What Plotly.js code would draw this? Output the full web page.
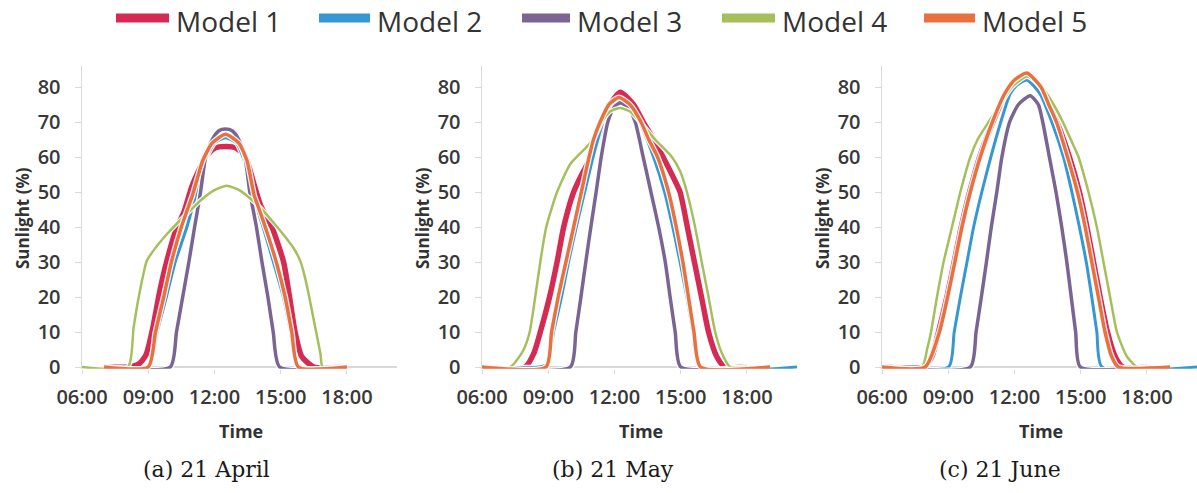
<!DOCTYPE html>
<html>
<head>
<meta charset="utf-8">
<script src="https://cdn.plot.ly/plotly-3.0.1.min.js"></script>
<style>
  html, body { margin: 0; padding: 0; background: #ffffff; }
  #chart { width: 1197px; height: 493px; }
</style>
</head>
<body>
<div id="chart"></div>
<script>
// Sunlight (%) through the day for five models, on three dates.
// Times are decimal hours; each series keeps its own sample times.

const modelNames = ['Model 1', 'Model 2', 'Model 3', 'Model 4', 'Model 5'];
const panelCaptions = ['(a) 21 April', '(b) 21 May', '(c) 21 June'];
const tickHours = [6, 9, 12, 15, 18];
const tickLabels = ['06:00', '09:00', '12:00', '15:00', '18:00'];

// ---- 21 April ----
const aprM1Time = [7.0, 8.1, 8.6, 8.9, 9.2, 9.5, 9.83, 10.3, 10.6, 11.0, 11.6, 12.0, 12.5, 13.0, 13.4, 13.8, 14.1, 14.6, 15.13, 15.4, 15.65, 15.95, 16.5, 18.0];
const aprM1Val  = [0, 0, 1, 3.5, 11, 21, 30, 40, 44, 52, 60, 62.5, 63, 62.5, 60, 52, 46, 40, 30, 20, 10, 3, 0, 0];
const aprM2Time = [7.0, 9.02, 9.4, 9.82, 10.22, 10.75, 11.1, 11.5, 12.0, 12.5, 13.0, 13.4, 13.9, 14.2, 14.67, 15.12, 15.45, 15.77, 18.0];
const aprM2Val  = [0, 0, 10, 20, 30, 40, 48, 58, 64, 65.5, 64, 58, 46, 40, 30, 20, 10, 0, 0];
const aprM3Time = [7.0, 10.0, 10.28, 10.56, 10.84, 11.1, 11.37, 11.6, 11.9, 12.2, 12.5, 12.8, 13.1, 13.38, 13.6, 13.9, 14.15, 14.42, 14.66, 14.95, 18.0];
const aprM3Val  = [0, 0, 10, 20, 30, 40, 50, 60, 65, 67.5, 68, 67.5, 65, 60, 50, 40, 30, 20, 10, 0, 0];
const aprM4Time = [6.0, 8.08, 8.34, 8.6, 8.94, 9.32, 9.85, 10.3, 10.9, 11.35, 11.96, 12.56, 13.16, 13.55, 14.07, 14.6, 15.1, 15.58, 15.88, 16.06, 16.26, 16.56, 16.8, 16.9, 18.0];
const aprM4Val  = [0, 0, 11.4, 21, 30.4, 34, 38, 41, 44.7, 47.5, 50.4, 51.8, 50.4, 48.5, 45.6, 41.8, 38, 34, 30.4, 26.6, 21, 11.4, 3.8, 0, 0];
const aprM5Time = [7.0, 9.0, 9.33, 9.7, 10.05, 10.5, 10.72, 11.0, 11.23, 11.47, 11.9, 12.5, 13.1, 13.47, 13.8, 14.0, 14.3, 14.8, 15.2, 15.5, 15.8, 18.0];
const aprM5Val  = [0, 0, 10, 20, 30, 40, 44, 49, 54, 59, 64, 66.5, 64, 59, 49, 45.5, 40, 30, 20, 10, 0, 0];

// ---- 21 May ----
const mayM1Time = [6.0, 7.96, 8.34, 8.64, 9.06, 9.4, 9.7, 10.15, 10.52, 10.93, 11.5, 11.8, 12.26, 12.86, 13.3, 13.77, 14.2, 14.6, 14.97, 15.3, 15.62, 15.94, 16.26, 16.63, 17.0, 18.0];
const mayM1Val  = [0, 0, 3.8, 10, 20, 30, 40, 50, 55, 60, 70, 75, 78.5, 75, 70, 65, 60, 55, 50, 40, 30, 20, 10, 3, 0, 0];
const mayM2Time = [6.0, 8.6, 8.94, 9.24, 9.6, 9.92, 10.27, 10.65, 11.03, 11.48, 11.8, 12.2, 12.7, 13.13, 13.77, 14.27, 14.64, 14.97, 15.28, 15.55, 15.85, 20.3];
const mayM2Val  = [0, 0, 0.8, 10, 20, 30, 40, 50, 60, 70, 74, 76, 74, 70, 60, 50, 40, 30, 20, 10, 0, 0];
const mayM3Time = [6.0, 10.0, 10.25, 10.48, 10.7, 10.93, 11.17, 11.4, 11.7, 11.96, 12.26, 12.64, 12.94, 13.3, 13.65, 14.0, 14.3, 14.52, 14.75, 15.0, 18.0];
const mayM3Val  = [0, 0, 10, 20, 30, 40, 50, 60, 70, 74, 75.5, 74, 70, 60, 50, 40, 30, 20, 10, 0, 0];
const mayM4Time = [6.0, 7.28, 7.58, 7.89, 8.16, 8.41, 8.64, 8.91, 9.4, 10.0, 10.6, 11.05, 11.43, 11.8, 12.26, 12.7, 13.16, 13.84, 14.6, 14.97, 15.28, 15.65, 15.95, 16.26, 16.56, 16.86, 17.24, 18.0];
const mayM4Val  = [0, 0, 2, 5, 10, 20, 30, 40, 50, 58, 62, 65, 70, 73, 74, 73, 70, 65, 60, 56, 50, 40, 30, 20, 10, 4, 0, 0];
const mayM5Time = [6.0, 8.9, 9.15, 9.45, 9.8, 10.15, 10.5, 10.85, 11.05, 11.35, 11.75, 12.2, 12.7, 13.2, 13.55, 13.95, 14.45, 14.8, 15.1, 15.35, 15.6, 15.9, 19.05];
const mayM5Val  = [0, 0, 10, 20, 30, 40, 50, 60, 65, 70, 75, 77, 75, 70, 65, 60, 50, 40, 30, 20, 10, 0, 0];

// ---- 21 June ----
const junM1Time = [6.0, 7.88, 8.26, 8.56, 8.94, 9.27, 9.59, 9.97, 10.42, 11.02, 11.58, 12.0, 12.56, 13.16, 13.54, 13.92, 14.49, 14.94, 15.28, 15.58, 15.88, 16.21, 16.56, 16.9, 18.0];
const junM1Val  = [0, 0, 3, 10, 20, 30, 40, 50, 60, 70, 78, 81.5, 83, 80, 75, 70, 60, 50, 40, 30, 20, 10, 3, 0, 0];
const junM2Time = [6.0, 9.02, 9.27, 9.55, 9.85, 10.15, 10.52, 10.93, 11.38, 11.8, 12.1, 12.56, 13.16, 13.69, 14.22, 14.6, 14.94, 15.25, 15.5, 15.73, 15.96, 20.3];
const junM2Val  = [0, 0, 10, 20, 30, 40, 50, 60, 70, 78, 80.5, 82, 78, 70, 60, 50, 40, 30, 20, 10, 0, 0];
const junM3Time = [6.0, 10.0, 10.26, 10.5, 10.73, 10.95, 11.2, 11.43, 11.78, 12.18, 12.71, 13.08, 13.28, 13.58, 13.88, 14.14, 14.37, 14.57, 14.77, 14.98, 18.0];
const junM3Val  = [0, 0, 10, 20, 30, 40, 50, 60, 70, 75, 77.5, 75, 70, 60, 50, 40, 30, 20, 10, 0, 0];
const junM4Time = [6.0, 7.81, 8.04, 8.22, 8.49, 8.79, 9.17, 9.55, 10.0, 10.33, 10.83, 11.36, 11.89, 12.56, 13.24, 13.77, 14.19, 14.55, 14.9, 15.35, 15.73, 16.03, 16.33, 16.64, 17.09, 17.55, 18.0];
const junM4Val  = [0, 0, 5, 10, 20, 30, 40, 50, 60, 65, 70, 75, 80, 83, 80, 75, 70, 65, 60, 50, 40, 30, 20, 10, 3, 0, 0];
const junM5Time = [6.0, 7.95, 8.6, 8.97, 9.3, 9.62, 10.0, 10.45, 11.0, 11.55, 12.0, 12.56, 13.2, 13.55, 13.9, 14.4, 14.85, 15.2, 15.5, 15.8, 16.1, 16.4, 16.7, 19.05];
const junM5Val  = [0, 0, 10, 20, 30, 40, 50, 60, 70, 78, 82, 84, 80, 75, 70, 60, 50, 40, 30, 20, 10, 3, 0, 0];

const panelSeries = [
  [[aprM1Time, aprM1Val], [aprM2Time, aprM2Val], [aprM3Time, aprM3Val], [aprM4Time, aprM4Val], [aprM5Time, aprM5Val]],
  [[mayM1Time, mayM1Val], [mayM2Time, mayM2Val], [mayM3Time, mayM3Val], [mayM4Time, mayM4Val], [mayM5Time, mayM5Val]],
  [[junM1Time, junM1Val], [junM2Time, junM2Val], [junM3Time, junM3Val], [junM4Time, junM4Val], [junM5Time, junM5Val]]
];

const modelColors = ['#d52b53', '#3797d3', '#7a6494', '#a5bf5c', '#e9713f'];
const modelWidths = [5.5, 3, 3.5, 2.5, 3.5];

const W = 1197, H = 493;
const px = v => v / W;
const py = v => (H - v) / H;

// plot areas in pixels (left edge of each panel)
const panelLeft = [82, 482, 882];
const panelWidth = 315;

const traces = [];
panelSeries.forEach((series, p) => {
  const axSuffix = p === 0 ? '' : String(p + 1);
  series.forEach((s, m) => {
    // thin white halo under each line keeps crossing curves apart
    traces.push({
      type: 'scatter', mode: 'lines',
      x: s[0], y: s[1],
      xaxis: 'x' + axSuffix, yaxis: 'y' + axSuffix,
      showlegend: false, hoverinfo: 'skip',
      line: { color: 'rgba(255,255,255,0.9)', width: modelWidths[m] + 2.5, shape: 'spline', smoothing: 0.6 }
    });
    traces.push({
      type: 'scatter', mode: 'lines',
      x: s[0], y: s[1],
      xaxis: 'x' + axSuffix, yaxis: 'y' + axSuffix,
      name: modelNames[m], showlegend: false, hoverinfo: 'skip',
      line: { color: modelColors[m], width: modelWidths[m], shape: 'spline', smoothing: 0.6 }
    });
  });
});

const tickFont = { family: 'Open Sans, sans-serif', size: 20, color: '#383838', weight: 600 };
const layout = {
  width: W, height: H, autosize: false,
  margin: { l: 0, r: 0, t: 0, b: 0, pad: 0 },
  paper_bgcolor: '#ffffff', plot_bgcolor: '#ffffff',
  showlegend: false,
  shapes: [], annotations: []
};

const yDomain = [py(368.75), py(66)];
panelLeft.forEach((left, p) => {
  const suf = p === 0 ? '' : String(p + 1);
  layout['xaxis' + suf] = {
    domain: [px(left), px(left + panelWidth)],
    range: [6, 6 + panelWidth / 22.08],
    anchor: 'y' + suf,
    tickvals: tickHours, ticktext: tickLabels,
    ticks: 'outside', ticklen: 4, tickcolor: '#d9d9d9',
    ticklabelstandoff: 6,
    showline: false, showgrid: false, zeroline: false,
    tickfont: tickFont, fixedrange: true
  };
  layout['yaxis' + suf] = {
    domain: yDomain,
    range: [-0.5, 86],
    anchor: 'x' + suf,
    tickvals: [0, 10, 20, 30, 40, 50, 60, 70, 80],
    ticks: 'outside', ticklen: 6, tickcolor: '#d9d9d9',
    ticklabelstandoff: 10,
    showline: true, linecolor: '#d9d9d9', linewidth: 1.5,
    showgrid: false,
    zeroline: true, zerolinecolor: '#d9d9d9', zerolinewidth: 1.5,
    tickfont: tickFont, fixedrange: true
  };
  // axis titles
  layout.annotations.push({
    xref: 'paper', yref: 'paper', x: px(left + 159), y: py(431),
    text: 'Time', showarrow: false, xanchor: 'center', yanchor: 'middle',
    font: { family: 'Open Sans, sans-serif', size: 18, color: '#333333', weight: 700 }
  });
  layout.annotations.push({
    xref: 'paper', yref: 'paper', x: px(left - 60), y: py(218),
    text: 'Sunlight (%)', showarrow: false, textangle: -90,
    xanchor: 'center', yanchor: 'middle',
    font: { family: 'Open Sans, sans-serif', size: 17, color: '#333333', weight: 700 }
  });
});

// panel captions
[206, 613, 1000].forEach((cx, p) => {
  layout.annotations.push({
    xref: 'paper', yref: 'paper', x: px(cx), y: py(469),
    text: panelCaptions[p], showarrow: false, xanchor: 'center', yanchor: 'middle',
    font: { family: 'DejaVu Serif, serif', size: 22, color: '#1a1a1a' }
  });
});

// legend: thick line swatch followed by its label
const legendSwatch = [[112, 173], [315, 374], [518, 574], [718, 779], [920, 979]];
legendSwatch.forEach((sw, m) => {
  layout.shapes.push({
    type: 'line', xref: 'paper', yref: 'paper',
    x0: px(sw[0] + 4), x1: px(sw[1] - 4), y0: py(18), y1: py(18),
    line: { color: modelColors[m], width: 9 }
  });
  layout.annotations.push({
    xref: 'paper', yref: 'paper', x: px(sw[1] + 1), y: py(21),
    text: modelNames[m], showarrow: false, xanchor: 'left', yanchor: 'middle',
    font: { family: 'Open Sans, sans-serif', size: 28, color: '#333333' }
  });
});

Plotly.newPlot('chart', traces, layout, { displayModeBar: false, staticPlot: true });
</script>
</body>
</html>
